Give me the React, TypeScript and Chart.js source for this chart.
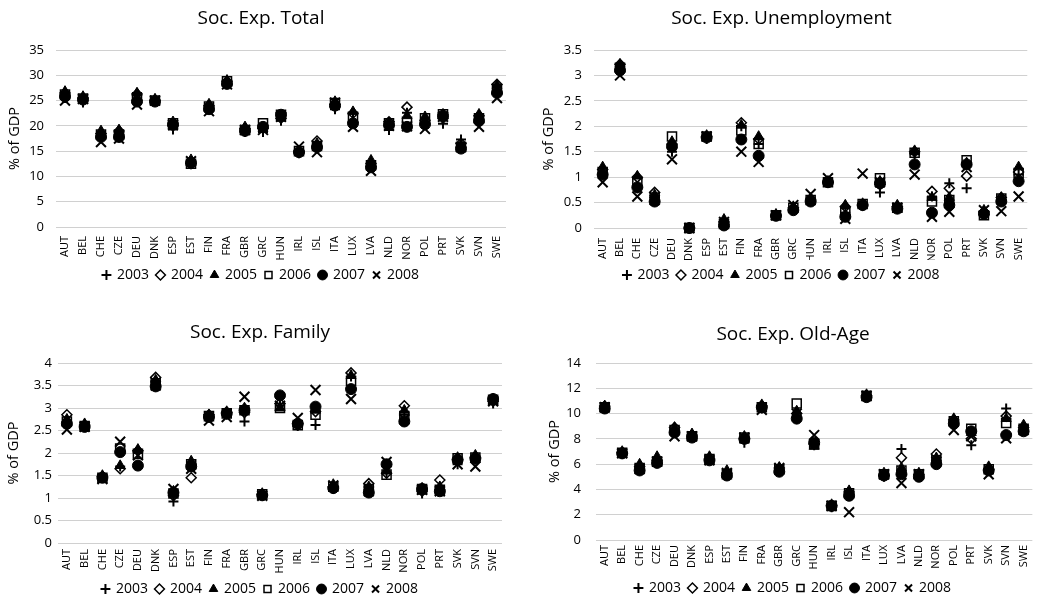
import React, { useEffect, useRef } from 'react';
import { Chart, registerables } from 'chart.js';

Chart.register(...registerables);

const countries = ['AUT', 'BEL', 'CHE', 'CZE', 'DEU', 'DNK', 'ESP', 'EST', 'FIN', 'FRA', 'GBR', 'GRC', 'HUN', 'IRL', 'ISL', 'ITA', 'LUX', 'LVA', 'NLD', 'NOR', 'POL', 'PRT', 'SVK', 'SVN', 'SWE'];
const years = ['2003', '2004', '2005', '2006', '2007', '2008'];

const total2003 = [25.5, 24.6, 17.5, 18.3, 26.5, 25.2, 19.3, 12.8, 24.0, 28.5, 18.8, 18.8, 21.0, 14.6, 15.5, 23.3, 22.5, 12.5, 19.2, 22.6, 21.5, 20.4, 17.3, 21.8, 27.8];
const total2004 = [26.5, 25.5, 18.5, 19.0, 26.3, 25.0, 20.0, 12.5, 24.0, 28.8, 19.5, 19.5, 21.5, 14.8, 17.0, 24.2, 22.5, 12.5, 20.8, 23.7, 21.0, 21.5, 16.5, 22.0, 28.2];
const total2005 = [26.8, 25.8, 19.0, 19.2, 26.5, 25.3, 20.8, 13.3, 24.3, 29.0, 19.8, 19.5, 22.0, 15.0, 16.5, 24.8, 22.8, 13.2, 20.5, 22.0, 21.8, 22.3, 16.2, 22.3, 28.0];
const total2006 = [26.2, 25.4, 18.3, 18.3, 25.5, 25.0, 20.5, 12.5, 23.8, 28.8, 19.2, 20.5, 22.2, 15.0, 16.0, 24.5, 21.8, 12.2, 20.5, 20.8, 21.5, 22.3, 15.8, 21.5, 27.3];
const total2007 = [25.8, 25.2, 17.8, 17.8, 24.8, 24.8, 20.3, 12.7, 23.3, 28.3, 19.0, 19.8, 22.2, 14.8, 15.8, 24.0, 20.5, 11.8, 20.2, 19.8, 20.3, 22.0, 15.5, 21.0, 26.5];
const total2008 = [25.0, 25.3, 16.8, 17.5, 24.2, 25.0, 20.2, 13.0, 22.9, 28.2, 19.2, 19.2, 21.8, 15.9, 14.8, 24.6, 19.8, 11.1, 20.0, 19.9, 19.4, 21.8, 15.8, 19.8, 25.5];

const unemp2003 = [1.05, 3.2, 0.78, 0.6, 1.5, 0, 1.75, 0.1, 2.0, 1.65, 0.24, 0.38, 0.55, 0.9, 0.3, 0.45, 0.7, 0.4, 1.45, 0.62, 0.88, 0.78, 0.3, 0.55, 1.05];
const unemp2004 = [1.15, 3.22, 1.0, 0.7, 1.65, 0, 1.8, 0.12, 2.07, 1.75, 0.25, 0.4, 0.55, 0.9, 0.42, 0.45, 0.85, 0.42, 1.5, 0.72, 0.78, 1.02, 0.32, 0.6, 1.1];
const unemp2005 = [1.2, 3.22, 1.02, 0.65, 1.7, 0, 1.82, 0.17, 2.02, 1.8, 0.27, 0.42, 0.58, 0.92, 0.45, 0.48, 0.92, 0.45, 1.52, 0.6, 0.6, 1.28, 0.35, 0.6, 1.2];
const unemp2006 = [1.1, 3.15, 0.9, 0.6, 1.8, 0, 1.8, 0.08, 1.92, 1.65, 0.25, 0.4, 0.55, 0.9, 0.3, 0.47, 0.98, 0.4, 1.48, 0.52, 0.55, 1.33, 0.25, 0.58, 1.08];
const unemp2007 = [1.05, 3.1, 0.8, 0.52, 1.6, 0, 1.78, 0.05, 1.74, 1.42, 0.24, 0.35, 0.52, 0.9, 0.22, 0.45, 0.88, 0.38, 1.25, 0.3, 0.45, 1.25, 0.28, 0.52, 0.92];
const unemp2008 = [0.9, 3.0, 0.62, 0.55, 1.35, 0, 1.8, 0.12, 1.5, 1.3, 0.25, 0.45, 0.67, 0.98, 0.18, 1.07, 0.9, 0.4, 1.05, 0.22, 0.32, 1.2, 0.35, 0.33, 0.62];

const family2003 = [2.65, 2.6, 1.45, 1.7, 2.0, 3.6, 0.92, 1.7, 2.8, 2.85, 2.7, 1.05, 3.05, 2.6, 2.62, 1.2, 3.7, 1.15, 1.55, 2.85, 1.1, 1.25, 1.75, 1.85, 3.1];
const family2004 = [2.85, 2.62, 1.48, 1.65, 2.05, 3.68, 1.05, 1.45, 2.85, 2.9, 2.9, 1.08, 3.1, 2.65, 2.92, 1.25, 3.78, 1.32, 1.55, 3.05, 1.15, 1.4, 1.85, 1.9, 3.15];
const family2005 = [2.75, 2.65, 1.5, 1.72, 2.08, 3.62, 1.15, 1.82, 2.85, 2.92, 3.0, 1.1, 3.0, 2.65, 2.95, 1.3, 3.72, 1.25, 1.6, 2.95, 1.22, 1.25, 1.9, 1.95, 3.2];
const family2006 = [2.7, 2.6, 1.45, 2.1, 1.98, 3.55, 1.1, 1.75, 2.82, 2.88, 2.95, 1.08, 3.0, 2.62, 2.85, 1.25, 3.6, 1.2, 1.52, 2.82, 1.2, 1.18, 1.88, 1.9, 3.18];
const family2007 = [2.65, 2.58, 1.45, 2.02, 1.72, 3.48, 1.12, 1.7, 2.8, 2.88, 2.95, 1.06, 3.28, 2.65, 3.03, 1.22, 3.42, 1.12, 1.75, 2.7, 1.2, 1.15, 1.85, 1.88, 3.2];
const family2008 = [2.52, 2.58, 1.42, 2.25, 1.95, 3.5, 1.2, 1.65, 2.72, 2.8, 3.25, 1.05, 3.05, 2.78, 3.4, 1.28, 3.2, 1.15, 1.8, 2.75, 1.18, 1.15, 1.75, 1.7, 3.15];

const oldage2003 = [10.5, 6.8, 5.7, 6.2, 8.8, 8.2, 6.3, 5.2, 7.7, 10.4, 5.5, 9.8, 7.5, 2.6, 3.6, 11.3, 5.0, 7.2, 5.1, 6.2, 9.3, 7.5, 5.5, 10.4, 8.7];
const oldage2004 = [10.6, 6.9, 5.8, 6.3, 8.9, 8.3, 6.4, 5.3, 8.0, 10.6, 5.7, 10.0, 7.6, 2.7, 3.8, 11.4, 5.1, 6.5, 5.2, 6.8, 9.5, 8.0, 5.6, 9.8, 8.9];
const oldage2005 = [10.6, 7.0, 6.0, 6.6, 8.9, 8.4, 6.6, 5.5, 8.2, 10.7, 5.75, 10.2, 7.4, 2.8, 3.9, 11.5, 5.3, 5.7, 5.3, 6.5, 9.6, 8.5, 5.8, 9.6, 9.1];
const oldage2006 = [10.5, 6.9, 5.7, 6.2, 8.7, 8.2, 6.4, 5.2, 8.1, 10.5, 5.6, 10.8, 7.6, 2.7, 3.7, 11.4, 5.2, 5.5, 5.2, 6.3, 9.4, 8.8, 5.6, 9.25, 8.8];
const oldage2007 = [10.4, 6.85, 5.5, 6.1, 8.5, 8.1, 6.3, 5.1, 8.0, 10.5, 5.4, 9.6, 7.7, 2.7, 3.5, 11.3, 5.1, 5.2, 5.0, 6.0, 9.2, 8.6, 5.5, 8.3, 8.6];
const oldage2008 = [10.5, 6.85, 5.6, 6.2, 8.2, 8.2, 6.3, 5.3, 8.1, 10.3, 5.7, 10.0, 8.3, 2.7, 2.2, 11.4, 5.2, 4.5, 5.2, 6.2, 8.7, 8.2, 5.2, 8.05, 8.7];

const FONT = "'Open Sans', 'DejaVu Sans', sans-serif";

const markerStyles = [
  { pointStyle: 'cross', radius: 5, fill: '#000', bw: 2 },
  { pointStyle: 'rectRot', radius: 5, fill: 'rgba(0,0,0,0)', bw: 1.5 },
  { pointStyle: 'triangle', radius: 5.8, fill: '#000', bw: 1 },
  { pointStyle: 'rect', radius: 6.4, fill: 'rgba(0,0,0,0)', bw: 1.5 },
  { pointStyle: 'circle', radius: 5.5, fill: '#000', bw: 1 },
  { pointStyle: 'crossRot', radius: 7, fill: '#000', bw: 2 },
];

const panels = [
  {
    title: 'Soc. Exp. Total', series: [total2003, total2004, total2005, total2006, total2007, total2008], max: 35, step: 5,
    left: 0, top: 0, width: 521, height: 299, padL: 16, padR: 15, padB: 7, yWidth: 40, ytp: -10, tpt: 7.6, tpb: 19.6, xHeight: 33, xPad: 9, yPad: 12,
  },
  {
    title: 'Soc. Exp. Unemployment', series: [unemp2003, unemp2004, unemp2005, unemp2006, unemp2007, unemp2008], max: 3.5, step: 0.5,
    left: 521, top: 0, width: 521, height: 299, padL: 3, padR: 3, padB: 7, yWidth: 70, ytp: 16.6, tpt: 7.6, tpb: 19.6, xHeight: 32, xPad: 10, yPad: 12,
  },
  {
    title: 'Soc. Exp. Family', series: [family2003, family2004, family2005, family2006, family2007, family2008], max: 4, step: 0.5,
    left: 0, top: 299, width: 521, height: 310, padL: 18, padR: 19, padB: 3, yWidth: 40, ytp: -13, tpt: 22.6, tpb: 18.6, xHeight: 31, xPad: 6, yPad: 6,
  },
  {
    title: 'Soc. Exp. Old-Age', series: [oldage2003, oldage2004, oldage2005, oldage2006, oldage2007, oldage2008], max: 14, step: 2,
    left: 521, top: 299, width: 521, height: 310, padL: 25, padR: 2, padB: 4, yWidth: 50, ytp: 0.6, tpt: 24.6, tpb: 16.6, xHeight: 33, xPad: 5, yPad: 15,
  },
];

function Panel({ spec }: { spec: any }) {
  const ref = useRef<HTMLCanvasElement>(null);
  useEffect(() => {
    const chart = new Chart(ref.current as HTMLCanvasElement, {
      type: 'line',
      data: {
        labels: countries,
        datasets: spec.series.map((d: number[], i: number) => ({
          label: years[i],
          data: d,
          showLine: false,
          pointStyle: markerStyles[i].pointStyle,
          pointRadius: markerStyles[i].radius,
          pointHoverRadius: markerStyles[i].radius,
          pointBackgroundColor: markerStyles[i].fill,
          pointBorderColor: '#000',
          pointBorderWidth: markerStyles[i].bw,
          borderColor: '#000',
          backgroundColor: markerStyles[i].fill,
          clip: false,
        })),
      },
      options: {
        responsive: false,
        animation: false,
        devicePixelRatio: 1,
        layout: { padding: { left: spec.padL, right: spec.padR, top: 0, bottom: spec.padB } },
        plugins: {
          title: {
            display: true, text: spec.title, color: '#000',
            font: { family: FONT, size: 19, weight: 'normal' },
            padding: { top: spec.tpt, bottom: spec.tpb },
          },
          legend: {
            position: 'bottom',
            labels: {
              usePointStyle: true, boxWidth: 7, boxHeight: 7, padding: 8, color: '#000',
              font: { family: FONT, size: 14 },
            },
          },
          tooltip: { enabled: false },
        },
        scales: {
          x: {
            offset: true,
            grid: { display: false, drawTicks: false },
            border: { display: false },
            ticks: {
              autoSkip: false, minRotation: 90, maxRotation: 90, padding: spec.xPad, color: '#000',
              font: { family: FONT, size: 11 },
            },
            afterFit: (s: any) => { s.height = spec.xHeight; },
          },
          y: {
            min: 0, max: spec.max,
            ticks: {
              stepSize: spec.step, padding: spec.yPad, color: '#000',
              font: { family: FONT, size: 13 },
              callback: (v: any) => String(v),
            },
            grid: { color: '#d0d0d0', drawTicks: false },
            border: { display: false },
            title: {
              display: true, text: '% of GDP', color: '#000',
              font: { family: FONT, size: 14.5 },
              padding: { top: spec.ytp, bottom: 0 },
            },
            afterFit: (s: any) => { s.width = spec.yWidth; },
          },
        },
      } as any,
    });
    return () => chart.destroy();
  }, []);
  return (
    <canvas
      ref={ref}
      width={spec.width}
      height={spec.height}
      style={{ position: 'absolute', left: spec.left, top: spec.top, width: spec.width, height: spec.height }}
    />
  );
}

export default function App() {
  return (
    <div style={{ position: 'absolute', left: 0, top: 0, width: 1042, height: 598, overflow: 'hidden', background: '#fff' }}>
      {panels.map((p, i) => <Panel key={i} spec={p} />)}
    </div>
  );
}
